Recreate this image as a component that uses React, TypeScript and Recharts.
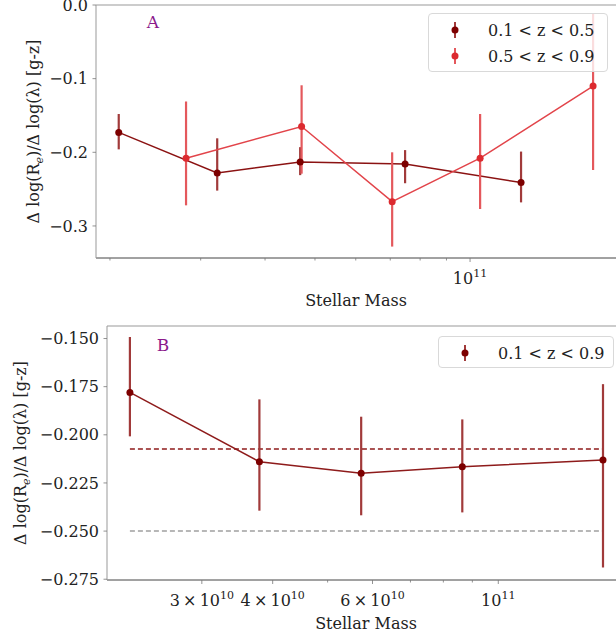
import React from "react";
import {
  ComposedChart,
  Line,
  ErrorBar,
  XAxis,
  YAxis,
  ReferenceLine,
  Legend,
} from "recharts";

const FONT = "'DejaVu Serif', serif";

// panel A, 0.1 < z < 0.5
const massA1 = [2.08e10, 3.23e10, 4.68e10, 7.48e10, 1.256e11];
const slopeA1 = [-0.173, -0.228, -0.213, -0.216, -0.241];
const errLoA1 = [0.023, 0.024, 0.018, 0.026, 0.027];
const errHiA1 = [0.025, 0.047, 0.02, 0.019, 0.042];

// panel A, 0.5 < z < 0.9
const massA2 = [2.81e10, 4.71e10, 7.06e10, 1.046e11, 1.733e11];
const slopeA2 = [-0.208, -0.165, -0.267, -0.208, -0.11];
const errLoA2 = [0.064, 0.064, 0.061, 0.069, 0.114];
const errHiA2 = [0.077, 0.056, 0.067, 0.06, 0.098];

// panel B, 0.1 < z < 0.9
const massB = [2.24e10, 3.79e10, 5.73e10, 8.64e10, 1.53e11];
const slopeB = [-0.178, -0.214, -0.22, -0.2166, -0.2131];
const errLoB = [0.0228, 0.0254, 0.0218, 0.0237, 0.0558];
const errHiB = [0.0288, 0.0324, 0.0294, 0.0246, 0.0394];
const levelsB = [-0.2074, -0.25];

const namesA = ["0.1 < z < 0.5", "0.5 < z < 0.9"];
const namesB = ["0.1 < z < 0.9"];

const xTicksA = [2e10, 3e10, 4e10, 5e10, 6e10, 7e10, 8e10, 9e10, 1e11];
const xLabelsA: Record<number, string> = { 1e11: "10^11" };
const xTicksB = [3e10, 4e10, 5e10, 6e10, 7e10, 8e10, 9e10, 1e11];
const xLabelsB: Record<number, string> = {
  3e10: "3\u2009\u00d7\u200910^10",
  4e10: "4\u2009\u00d7\u200910^10",
  6e10: "6\u2009\u00d7\u200910^10",
  1e11: "10^11",
};
const yTicksA = [0, -0.1, -0.2, -0.3];
const yTicksB = [-0.15, -0.175, -0.2, -0.225, -0.25, -0.275];

const toRows = (m: number[], s: number[], lo: number[], hi: number[]) =>
  m.map((mass, i) => ({ mass, slope: s[i], err: [lo[i], hi[i]] }));

const rowsA1 = toRows(massA1, slopeA1, errLoA1, errHiA1);
const rowsA2 = toRows(massA2, slopeA2, errLoA2, errHiA2);
const rowsB = toRows(massB, slopeB, errLoB, errHiB);

const DARK = "#7d0000";
const DARK_BAR = "#a13a3a";
const RED = "#dc2a2f";
const RED_BAR = "#e4585c";

const fmt = (v: number, d: number) =>
  v === 0 ? (0).toFixed(d) : (v < 0 ? "\u2212" : "") + Math.abs(v).toFixed(d);

const MassTick = (props: any) => {
  const { x, y, payload, labels } = props;
  const label: string | undefined = labels[payload.value];
  const parts = label ? label.split("^") : [];
  return (
    <g>
      <line x1={x} x2={x} y1={y} y2={y + (label ? 4 : 2.5)} stroke="#777" strokeWidth={0.8} />
      {label && (
        <text x={x} y={y + 26} textAnchor="middle" fontFamily={FONT} fontSize={16} fill="#222">
          {parts[0]}
          <tspan dy={-7} fontSize={11}>
            {parts[1]}
          </tspan>
        </text>
      )}
    </g>
  );
};

const SlopeTick = (props: any) => {
  const { x, y, payload, digits } = props;
  return (
    <g>
      <line x1={x - 3.5} x2={x} y1={y} y2={y} stroke="#777" strokeWidth={0.8} />
      <text x={x - 8} y={y} dy="0.35em" textAnchor="end" fontFamily={FONT} fontSize={16} fill="#222">
        {fmt(payload.value, digits)}
      </text>
    </g>
  );
};

const yTitle = (dx: number) => (props: any) => {
  const vb = props.viewBox;
  const cx = vb.x + dx;
  const cy = vb.y + vb.height / 2;
  return (
    <text
      x={cx}
      y={cy}
      dy="0.35em"
      transform={`rotate(-90 ${cx} ${cy})`}
      textAnchor="middle"
      fontFamily={FONT}
      fontSize={16}
      fill="#222"
    >
      {"\u0394 log(R"}
      <tspan dy={4} fontSize={11} fontStyle="italic">
        e
      </tspan>
      <tspan dy={-4}>{")/\u0394 log(\u03bb) [g-z]"}</tspan>
    </text>
  );
};

const xTitle = (dy: number) => (props: any) => {
  const vb = props.viewBox;
  return (
    <text x={vb.x + vb.width / 2} y={vb.y + dy} textAnchor="middle" fontFamily={FONT} fontSize={16} fill="#222">
      Stellar Mass
    </text>
  );
};

const Marker = ({ dot, bar }: { dot: string; bar: string }) => (
  <svg width={10} height={20} style={{ marginLeft: 21, flex: "none" }}>
    <line x1={5} x2={5} y1={2} y2={18} stroke={bar} strokeWidth={2} />
    <circle cx={5} cy={10} r={3.5} fill={dot} />
  </svg>
);

const legendBox = (items: { name: string; dot: string; bar: string }[], w: number, h: number) => () => (
  <div
    style={{
      boxSizing: "border-box",
      width: w,
      height: h,
      border: "1px solid #d9d9d9",
      borderRadius: 4,
      background: "rgba(255,255,255,0.8)",
      paddingTop: 3,
      fontFamily: FONT,
      fontSize: 16,
      color: "#222",
    }}
  >
    {items.map((it) => (
      <div key={it.name} style={{ display: "flex", alignItems: "center", height: 26 }}>
        <Marker dot={it.dot} bar={it.bar} />
        <span style={{ marginLeft: 28, whiteSpace: "nowrap" }}>{it.name}</span>
      </div>
    ))}
  </div>
);

export default function App() {
  return (
    <div style={{ position: "absolute", left: 0, top: 0, width: 616, height: 639, overflow: "hidden", background: "#fff" }}>
      <div style={{ position: "absolute", left: 0, top: 0 }}>
        <ComposedChart width={616} height={310} margin={{ top: 5, right: 0, left: 0, bottom: 0 }}>
          <XAxis
            dataKey="mass"
            type="number"
            scale="log"
            domain={[1.879e10, 1.92e11]}
            allowDataOverflow
            ticks={xTicksA}
            interval={0}
            height={52}
            tickLine={false}
            tickSize={0}
            tickMargin={0}
            axisLine={{ stroke: "#444", strokeWidth: 1 }}
            tick={(p: any) => <MassTick {...p} labels={xLabelsA} />}
            label={{ content: xTitle(48) }}
          />
          <YAxis
            type="number"
            domain={[-0.3435, 0]}
            allowDataOverflow
            ticks={yTicksA}
            interval={0}
            width={96}
            tickLine={false}
            tickSize={0}
            tickMargin={0}
            axisLine={{ stroke: "#999", strokeWidth: 1 }}
            tick={(p: any) => <SlopeTick {...p} digits={1} />}
            label={{ content: yTitle(33) }}
          />
          <ReferenceLine y={0} stroke="#999" strokeWidth={1} />
          <Line
            data={rowsA1}
            dataKey="slope"
            stroke="#8b1212"
            strokeWidth={1.5}
            dot={{ r: 3.5, fill: DARK, stroke: DARK, strokeWidth: 0 }}
            activeDot={false}
            isAnimationActive={false}
          >
            <ErrorBar dataKey="err" direction="y" width={0} stroke={DARK_BAR} strokeWidth={2.2} isAnimationActive={false} />
          </Line>
          <Line
            data={rowsA2}
            dataKey="slope"
            stroke="#e2444a"
            strokeWidth={1.5}
            dot={{ r: 3.5, fill: RED, stroke: RED, strokeWidth: 0 }}
            activeDot={false}
            isAnimationActive={false}
          >
            <ErrorBar dataKey="err" direction="y" width={0} stroke={RED_BAR} strokeWidth={2.2} isAnimationActive={false} />
          </Line>
          <text x={153} y={28} textAnchor="middle" fontFamily={FONT} fontSize={17} fill="#8b1a8b">
            A
          </text>
          <Legend
            layout="horizontal"
            verticalAlign="middle"
            align="center"
            wrapperStyle={{ left: 428, top: 13, width: 180, height: 59 }}
            content={legendBox(
              [
                { name: namesA[0], dot: DARK, bar: DARK_BAR },
                { name: namesA[1], dot: RED, bar: RED_BAR },
              ],
              180,
              59
            )}
          />
        </ComposedChart>
      </div>
      <div style={{ position: "absolute", left: 0, top: 310 }}>
        <ComposedChart width={625} height={329} margin={{ top: 16, right: 0, left: 0, bottom: 0 }}>
          <XAxis
            dataKey="mass"
            type="number"
            scale="log"
            domain={[2.041e10, 1.673e11]}
            allowDataOverflow
            ticks={xTicksB}
            interval={0}
            height={59}
            tickLine={false}
            tickSize={0}
            tickMargin={0}
            axisLine={{ stroke: "#444", strokeWidth: 1 }}
            tick={(p: any) => <MassTick {...p} labels={xLabelsB} />}
            label={{ content: xTitle(49) }}
          />
          <YAxis
            type="number"
            domain={[-0.2754, -0.1435]}
            allowDataOverflow
            ticks={yTicksB}
            interval={0}
            width={107}
            tickLine={false}
            tickSize={0}
            tickMargin={0}
            axisLine={{ stroke: "#999", strokeWidth: 1 }}
            tick={(p: any) => <SlopeTick {...p} digits={3} />}
            label={{ content: yTitle(20) }}
          />
          <ReferenceLine y={-0.1435} stroke="#999" strokeWidth={1} />
          <ReferenceLine
            segment={[
              { x: massB[0], y: levelsB[0] },
              { x: massB[massB.length - 1], y: levelsB[0] },
            ]}
            stroke="#8e1b1b"
            strokeWidth={1.5}
            strokeDasharray="5 3"
          />
          <ReferenceLine
            segment={[
              { x: massB[0], y: levelsB[1] },
              { x: massB[massB.length - 1], y: levelsB[1] },
            ]}
            stroke="#a0a0a0"
            strokeWidth={1.5}
            strokeDasharray="5 3"
          />
          <Line
            data={rowsB}
            dataKey="slope"
            stroke="#8e1b1b"
            strokeWidth={1.5}
            dot={{ r: 3.5, fill: DARK, stroke: DARK, strokeWidth: 0 }}
            activeDot={false}
            isAnimationActive={false}
          >
            <ErrorBar dataKey="err" direction="y" width={0} stroke={DARK_BAR} strokeWidth={2.2} isAnimationActive={false} />
          </Line>
          <text x={163} y={41} textAnchor="middle" fontFamily={FONT} fontSize={17} fill="#8b1a8b">
            B
          </text>
          <Legend
            layout="horizontal"
            verticalAlign="middle"
            align="center"
            wrapperStyle={{ left: 438, top: 26, width: 176, height: 32 }}
            content={legendBox([{ name: namesB[0], dot: DARK, bar: DARK_BAR }], 176, 32)}
          />
        </ComposedChart>
      </div>
    </div>
  );
}
